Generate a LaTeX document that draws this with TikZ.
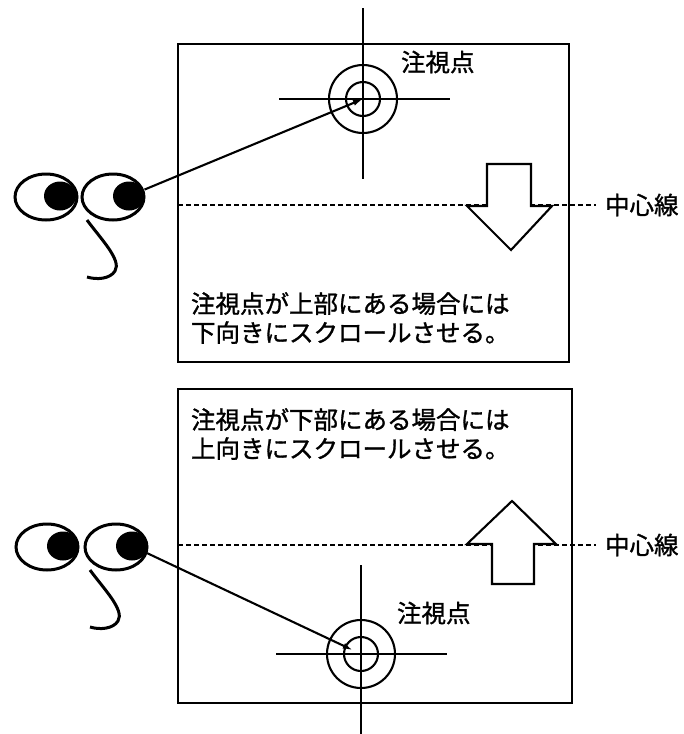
\documentclass[tikz,border=0pt]{standalone}
\usepackage{fontspec}
\newfontfamily\jp[FakeBold=1.2]{Noto Sans CJK JP}
\usetikzlibrary{positioning}
\usetikzlibrary{shapes.geometric}
\usetikzlibrary{arrows.meta}

\begin{document}
\begin{tikzpicture} [x=1pt, y=-1pt, line width=2.1pt,
        eye/.style = {draw, ellipse, line width=3pt, minimum width=62pt, minimum height=46pt, inner sep=0pt},
        pupil/.style = {fill, ellipse, minimum width=32pt, minimum height=29pt, inner sep=0pt},
        txt/.style = {font=\jp\fontsize{24.5}{29}\selectfont, inner sep=0pt, anchor=west},
        hint/.style = {txt, align=left},
        mline/.style = {line width=1.8pt, dash pattern=on 5pt off 3pt, shorten >=8pt},
        look/.style = {-{Latex[length=10pt,width=6pt]}}]
        \useasboundingbox (0,0) rectangle (684,734);

        %Bildschirme
        \draw (178,44) rectangle (569,362);
        \draw (178,389) rectangle (572,703);

        %Mittellinie
        \node[txt] (ml1) at (604,205) {中心線};
        \node[txt] (ml2) at (604,545) {中心線};
        \coordinate (m1) at (178,205);
        \coordinate (m2) at (178,545);
        \draw[mline] (m1) -- (ml1.west);
        \draw[mline] (m2) -- (ml2.west);

        %Pfeile
        \draw[fill=white] (487,164) -- (531,164) -- (531,206) -- (552,206) -- (511,250) -- (467,206) -- (487,206) -- cycle;
        \draw[fill=white] (492,584) -- (534,584) -- (534,544) -- (556,544) -- (512,501) -- (467,544) -- (492,544) -- cycle;

        %Texte
        \node[hint] (t1) at (190,318) {注視点が上部にある場合には\\下向きにスクロールさせる。};
        \node[hint] (t2) at (190,434) {注視点が下部にある場合には\\上向きにスクロールさせる。};

        %Fadenkreuze
        \coordinate (c1) at (363,99);
        \coordinate (c2) at (361,654);
        \draw (363,8) -- (363,179);
        \draw (279,99) -- (450,99);
        \draw (c1) circle[radius=34pt];
        \draw (c1) circle[radius=17pt];
        \draw (361,565) -- (361,734);
        \draw (276,654) -- (447,654);
        \draw (c2) circle[radius=34pt];
        \draw (c2) circle[radius=17pt];
        \node[txt] (f1) at (400,62) {注視点};
        \node[txt] (f2) at (396,613) {注視点};

        %Augen
        \node[eye] (e10) at (46,197) {};
        \node[eye] (e11) at (113,197) {};
        \node[pupil] (p10) at (60,196) {};
        \node[pupil] (p11) at (129,196) {};
        \node[eye] (e20) at (47,547) {};
        \node[eye] (e21) at (116,547) {};
        \node[pupil] (p20) at (63,546) {};
        \node[pupil] (p21) at (132,546) {};

        %Nasen
        \draw[line width=3pt] (87,220) .. controls (100,238) and (122,260) .. (115,271) .. controls (110,279) and (97,280) .. (87,277);
        \draw[line width=3pt] (90,570) .. controls (103,588) and (125,610) .. (118,621) .. controls (113,629) and (100,630) .. (90,627);

        %Blick
        \draw[look] (p11) -- (c1);
        \draw[look, shorten >=9pt] (p21) -- (c2);
    \end{tikzpicture}
\end{document}
